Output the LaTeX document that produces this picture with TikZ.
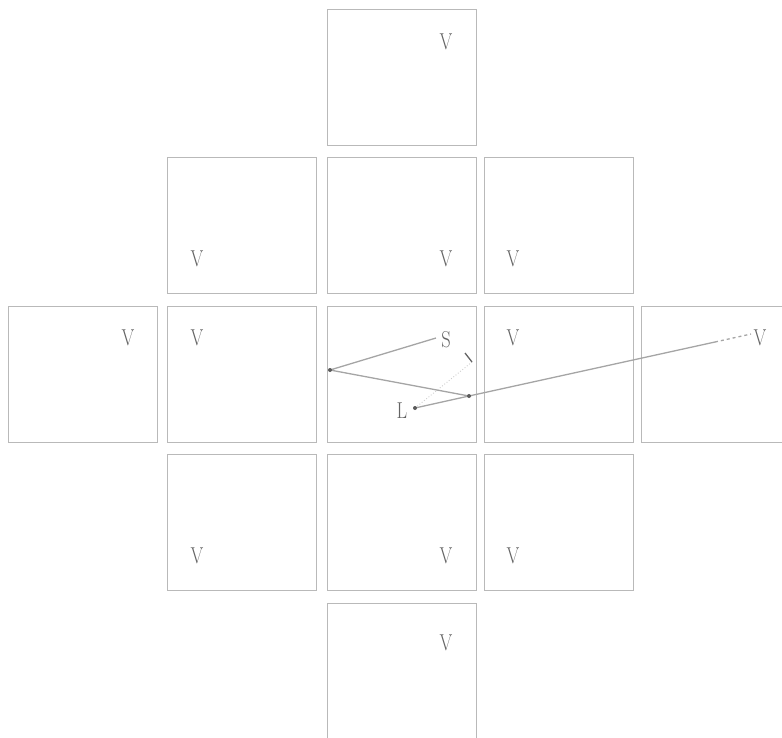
\documentclass[tikz,border=0pt]{standalone}
\usetikzlibrary{calc}
\definecolor{boxgray}{RGB}{185,185,185}
\definecolor{raygray}{RGB}{165,165,165}
\definecolor{txtgray}{RGB}{100,100,100}
\begin{document}
\begin{tikzpicture}[x=1pt,y=-1pt,
  room/.style={draw=boxgray,line width=1.1pt,rectangle,minimum width=149pt,minimum height=136pt,inner sep=0pt,anchor=north west},
  lab/.style={text=txtgray,inner sep=0pt,font=\fontsize{23}{26}\selectfont,xscale=0.8,transform shape},
  ray/.style={draw=raygray,line width=1.3pt},
  faint/.style={draw=raygray!55,line width=0.9pt,dotted},
  pt/.style={fill=raygray!55!black,circle,inner sep=0pt,minimum size=4pt}]
\useasboundingbox (0,0) rectangle (782,737);
\begin{scope}
\clip (0,0) rectangle (782,737);
% rooms
\node[room] (b02) at (327,9) {};
\node[room] (b11) at (167,157) {};
\node[room] (b12) at (327,157) {};
\node[room] (b13) at (484,157) {};
\node[room] (b20) at (8,306) {};
\node[room] (b21) at (167,306) {};
\node[room] (b22) at (327,306) {};
\node[room] (b23) at (484,306) {};
\node[room] (b24) at (641,306) {};
\node[room] (b31) at (167,454) {};
\node[room] (b32) at (327,454) {};
\node[room] (b33) at (484,454) {};
\node[room] (b42) at (327,603) {};
\end{scope}
% labels V
\node[lab] (v02) at (446,42) {V};
\node[lab] (v11) at (197,259) {V};
\node[lab] (v12) at (446,259) {V};
\node[lab] (v13) at (513,259) {V};
\node[lab] (v20) at (128,338) {V};
\node[lab] (v21) at (197,338) {V};
\node[lab] (v23) at (513,338) {V};
\node[lab] (v24) at (760,338) {V};
\node[lab] (v31) at (197,556) {V};
\node[lab] (v32) at (446,556) {V};
\node[lab] (v33) at (513,556) {V};
\node[lab] (v42) at (446,643) {V};
% source and listener
\node[lab] (S) at (446,340) {S};
\node[lab] (L) at (402,411) {L};
% ray points
\coordinate (sS) at (436,338);
\coordinate (pA) at (330,370);
\coordinate (pJ) at (469,396);
\coordinate (pL) at (415,408);
\coordinate (pD) at (715,342);
\coordinate (pV) at (751,334);
\coordinate (pT) at (472,362);
\coordinate (tk) at (465,353);
% rays
\draw[ray] (sS) -- (pA) -- (pJ) -- (pL);
\draw[ray] (pJ) -- (pD);
\draw[ray,dashed] (pD) -- (pV);
\draw[faint] (pL) -- (pT);
\draw[ray,draw=raygray!60!black,line width=1.3pt] (tk) -- (pT);
\node[pt] (dA) at (pA) {};
\node[pt] (dJ) at (pJ) {};
\node[pt] (dL) at (pL) {};
\end{tikzpicture}
\end{document}
